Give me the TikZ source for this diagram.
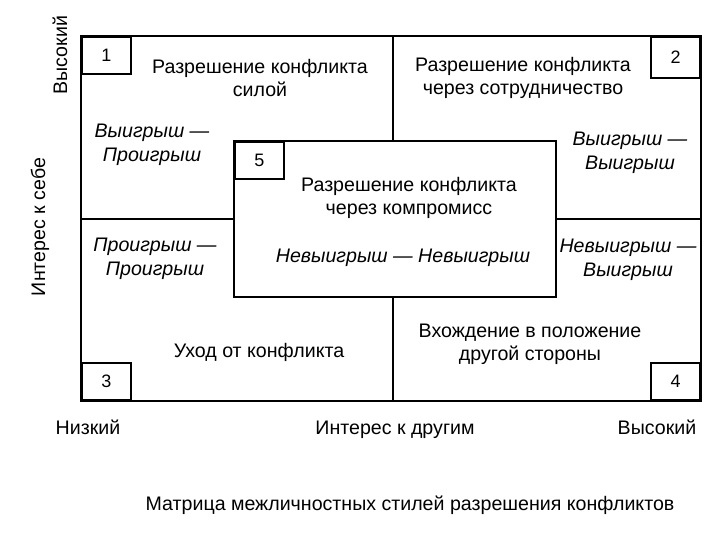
\documentclass[tikz,border=0pt]{standalone}
\usepackage{fontspec}
\setmainfont{Liberation Sans}
\begin{document}
\begin{tikzpicture}[
  x=0.75pt, y=-0.75pt,
  frame/.style={line width=1.5pt},
  numbox/.style={draw, line width=1.3pt, minimum width=36.75pt, minimum height=27.75pt, inner sep=0pt, font=\fontsize{13.5}{15}\selectfont},
  lbl/.style={align=center, font=\fontsize{14.7}{17.25}\selectfont},
  res/.style={align=center, font=\fontsize{14.7}{18}\selectfont\itshape},
  ax/.style={font=\fontsize{14.7}{17}\selectfont}
]
\useasboundingbox (0,0) rectangle (720,540);
% matrix frame
\draw[frame] (81,36) rectangle (701,401);
\draw[frame] (234,141) rectangle (556,297);
\draw[frame] (393,36) -- (393,141);
\draw[frame] (393,297) -- (393,401);
\draw[frame] (81,219) -- (234,219);
\draw[frame] (556,219) -- (701,219);
% numbered corners
\node[numbox, anchor=north west] (n1) at (81,36) {1};
\node[numbox, anchor=north east, minimum height=30.75pt] (n2) at (701,36) {2};
\node[numbox, anchor=north west] (n5) at (234,141) {5};
\node[numbox, anchor=south west] (n3) at (81,401) {3};
\node[numbox, anchor=south east] (n4) at (701,401) {4};
% styles
\node[lbl] (force) at (260,78) {Разрешение конфликта\\силой};
\node[lbl] (coop) at (523,78) {Разрешение конфликта\\через сотрудничество};
\node[lbl] (comp) at (409,198) {Разрешение конфликта\\через компромисс};
\node[lbl] (avoid) at (259,352) {Уход от конфликта};
\node[lbl] (adapt) at (530,344) {Вхождение в положение\\другой стороны};
% outcomes
\node[res] (wl) at (152,145) {Выигрыш ---\\Проигрыш};
\node[res] (ww) at (630,153) {Выигрыш ---\\Выигрыш};
\node[res] (ll) at (155,259) {Проигрыш ---\\Проигрыш};
\node[res] (nw) at (628,260) {Невыигрыш ---\\Выигрыш};
\node[res] (nn) at (403,258) {Невыигрыш --- Невыигрыш};
% axes
\node[ax, rotate=90] (yhigh) at (60,55) {Высокий};
\node[ax, rotate=90] (yname) at (40,227) {Интерес к себе};
\node[ax, anchor=base] (xlow) at (88,434) {Низкий};
\node[ax, anchor=base] (xname) at (395,434) {Интерес к другим};
\node[ax, anchor=base] (xhigh) at (657,434) {Высокий};
\node[ax] (caption) at (410,505) {Матрица межличностных стилей разрешения конфликтов};
\end{tikzpicture}
\end{document}
